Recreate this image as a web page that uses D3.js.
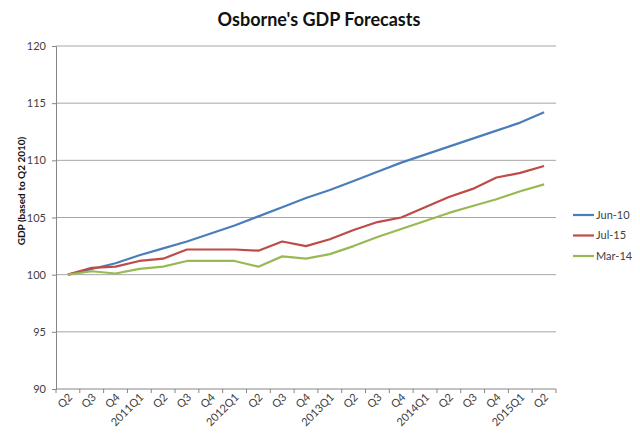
<!DOCTYPE html>
<html>
<head>
<meta charset="utf-8">
<script src="https://cdn.jsdelivr.net/npm/d3@7"></script>
<style>
  body { margin: 0; background: #fff; }
  svg { font-family: Lato, "Open Sans", sans-serif; }
  .tick-label { font-size: 11px; fill: #404040; }
</style>
</head>
<body>
<div id="chart"></div>
<script>
// quarters from Q2 2010 to Q2 2015
const categories = ["Q2", "Q3", "Q4", "2011Q1", "Q2", "Q3", "Q4", "2012Q1", "Q2", "Q3", "Q4",
  "2013Q1", "Q2", "Q3", "Q4", "2014Q1", "Q2", "Q3", "Q4", "2015Q1", "Q2"];
const seriesNames = ["Jun-10", "Jul-15", "Mar-14"];
const jun10 = [100, 100.5, 101.0, 101.7, 102.3, 102.9, 103.6, 104.3, 105.1, 105.9, 106.7,
  107.4, 108.2, 109.0, 109.8, 110.5, 111.2, 111.9, 112.6, 113.3, 114.2];
const jul15 = [100, 100.6, 100.7, 101.2, 101.4, 102.2, 102.2, 102.2, 102.1, 102.9, 102.5,
  103.1, 103.9, 104.6, 105.0, 105.9, 106.8, 107.5, 108.5, 108.9, 109.5];
const mar14 = [100, 100.3, 100.1, 100.5, 100.7, 101.2, 101.2, 101.2, 100.7, 101.6, 101.4,
  101.8, 102.5, 103.3, 104.0, 104.7, 105.4, 106.0, 106.6, 107.3, 107.9];
const yTicks = [90, 95, 100, 105, 110, 115, 120];

const width = 640, height = 438;
const margin = {left: 56, right: 84, top: 46, bottom: 49};
const colors = ["#4a7ebb", "#be4b48", "#98b954"];
const series = [jun10, jul15, mar14];

const svg = d3.select("#chart").append("svg")
  .attr("width", width)
  .attr("height", height);

const x = d3.scaleBand()
  .domain(d3.range(categories.length))
  .range([margin.left, width - margin.right])
  .padding(0);

const y = d3.scaleLinear()
  .domain([90, 120])
  .range([height - margin.bottom, margin.top]);

// title
svg.append("text")
  .attr("x", 319)
  .attr("y", 26)
  .attr("text-anchor", "middle")
  .style("font-size", "18px")
  .style("font-weight", "bold")
  .style("fill", "#111")
  .text("Osborne's GDP Forecasts");

// gridlines
svg.append("g")
  .selectAll("line")
  .data(yTicks.filter(d => d > 90))
  .enter().append("line")
  .attr("x1", margin.left)
  .attr("x2", width - margin.right)
  .attr("y1", d => y(d))
  .attr("y2", d => y(d))
  .attr("stroke", "#a6a6a6")
  .attr("stroke-width", 1);

// y axis
const yAxis = svg.append("g")
  .attr("transform", `translate(${margin.left},0)`)
  .call(d3.axisLeft(y).tickValues(yTicks).tickSize(4).tickPadding(6));
yAxis.select(".domain").attr("stroke", "#868686");
yAxis.selectAll(".tick line").attr("stroke", "#868686");
yAxis.selectAll(".tick text")
  .attr("class", "tick-label")
  .style("font-family", "Lato, sans-serif");

// y title
svg.append("text")
  .attr("transform", "translate(25,191) rotate(-90)")
  .attr("text-anchor", "middle")
  .style("font-size", "10px")
  .style("font-weight", "bold")
  .style("fill", "#111")
  .text("GDP (based to Q2 2010)");

// x axis: ticks between categories, like the spreadsheet
const xg = svg.append("g");
const baseY = y(90);
xg.append("line")
  .attr("x1", margin.left)
  .attr("x2", width - margin.right)
  .attr("y1", baseY)
  .attr("y2", baseY)
  .attr("stroke", "#868686");
xg.selectAll(".xtick")
  .data(d3.range(categories.length + 1))
  .enter().append("line")
  .attr("class", "xtick")
  .attr("x1", d => margin.left + d * x.bandwidth())
  .attr("x2", d => margin.left + d * x.bandwidth())
  .attr("y1", baseY)
  .attr("y2", baseY + 4)
  .attr("stroke", "#868686");
xg.selectAll(".xlabel")
  .data(categories)
  .enter().append("text")
  .attr("class", "tick-label")
  .attr("text-anchor", "end")
  .attr("transform", (d, i) => `translate(${x(i) + x.bandwidth() / 2 + 5},${baseY + 9}) rotate(-45)`)
  .text(d => d);

// lines
const line = d3.line()
  .x((d, i) => x(i) + x.bandwidth() / 2)
  .y(d => y(d));

svg.append("g")
  .selectAll("path")
  .data(series)
  .enter().append("path")
  .attr("d", line)
  .attr("fill", "none")
  .attr("stroke", (d, i) => colors[i])
  .attr("stroke-width", 2.2)
  .attr("stroke-linejoin", "round");

// legend
const legend = svg.append("g")
  .selectAll("g")
  .data(seriesNames)
  .enter().append("g")
  .attr("transform", (d, i) => `translate(573,${215 + i * 20.5})`);
legend.append("line")
  .attr("x1", 0).attr("x2", 21)
  .attr("stroke", (d, i) => colors[i])
  .attr("stroke-width", 2.2);
legend.append("text")
  .attr("class", "tick-label")
  .attr("x", 23)
  .attr("dy", "0.35em")
  .text(d => d);
</script>
</body>
</html>
